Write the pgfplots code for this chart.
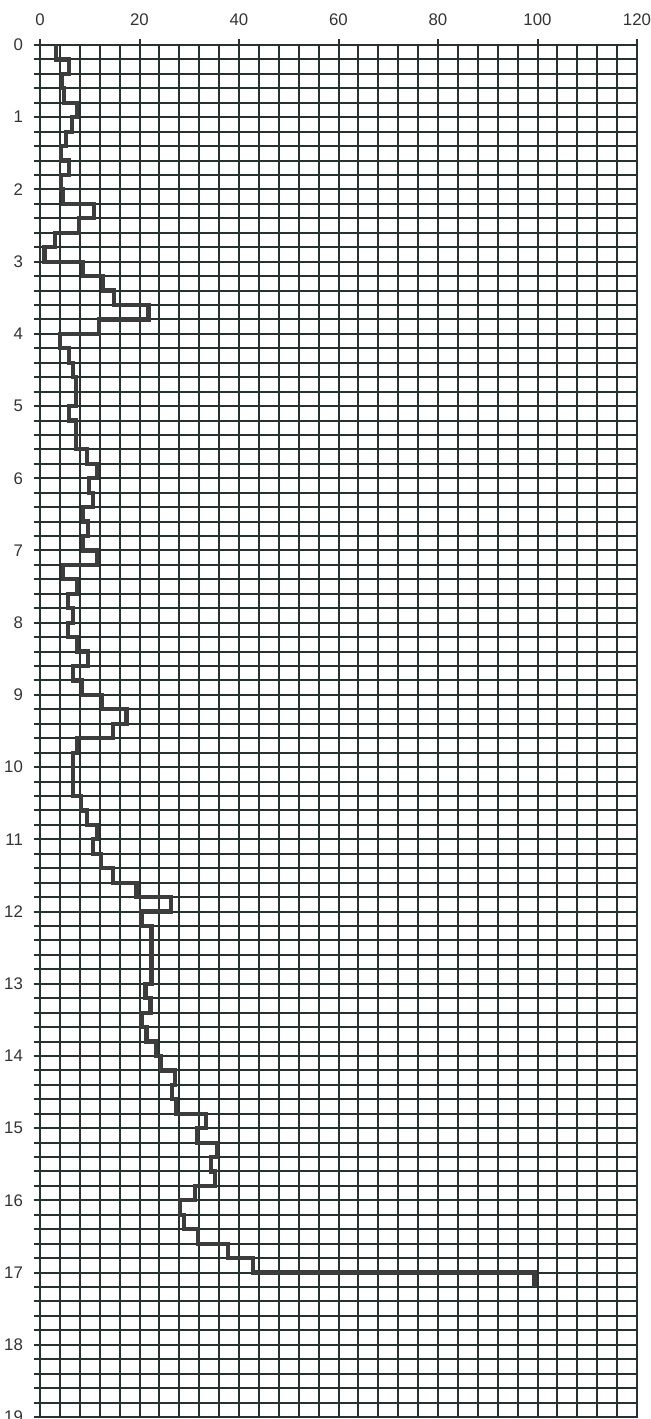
\documentclass[border=0pt]{standalone}
\usepackage{pgfplots}
\pgfplotsset{compat=1.18}
\usepackage{fontspec}
\setmainfont{Liberation Sans}
\definecolor{gridc}{HTML}{263230}
\definecolor{linec}{HTML}{3C3C3C}
\begin{document}
\begin{tikzpicture}
\begin{axis}[
  scale only axis,
  width=298.5pt, height=686pt,
  xmin=0, xmax=120, ymin=0, ymax=19,
  y dir=reverse,
  xtick={0,20,...,120},
  minor xtick={4,8,...,116},
  ytick={0,1,...,19},
  minor ytick={0.2,0.4,...,18.9},
  xtick pos=upper, xticklabel pos=upper,
  ytick pos=left,
  tick align=outside,
  major tick length=3pt,
  minor tick length=0pt,
  extra y ticks={0.2,0.4,...,18.9},
  extra y tick labels={},
  extra y tick style={major tick length=3pt, grid=none},
  grid=both,
  major grid style={draw=gridc, line width=1pt},
  minor grid style={draw=gridc, line width=1pt},
  axis line style={draw=gridc, line width=1pt},
  every tick/.style={draw=gridc, line width=1pt},
  tick label style={font=\fontsize{8.4}{10}\selectfont, text=black!80},
  xticklabel style={yshift=3pt},
  yticklabel style={xshift=-2pt},
  /pgf/number format/assume math mode=true,
  clip=false,
]
\addplot[draw=linec, line width=2.1pt, line join=miter] coordinates {
(3.2,0) (3.2,0.2) (5.9,0.2) (5.9,0.4) (4.4,0.4) (4.4,0.6) (4.9,0.6) (4.9,0.8)
(7.4,0.8) (7.4,1.0) (6.4,1.0) (6.4,1.2) (5.2,1.2) (5.2,1.4) (4.2,1.4) (4.2,1.6)
(5.9,1.6) (5.9,1.8) (4.2,1.8) (4.2,2.0) (4.7,2.0) (4.7,2.2) (10.9,2.2) (10.9,2.4)
(7.9,2.4) (7.9,2.6) (3.0,2.6) (3.0,2.8) (0.9,2.8) (0.9,3.0) (8.7,3.0) (8.7,3.2)
(12.7,3.2) (12.7,3.4) (14.9,3.4) (14.9,3.6) (21.8,3.6) (21.8,3.8) (11.9,3.8) (11.9,4.0)
(4.0,4.0) (4.0,4.2) (5.9,4.2) (5.9,4.4) (6.7,4.4) (6.7,4.6) (7.3,4.6) (7.3,5.0)
(5.9,5.0) (5.9,5.2) (7.3,5.2) (7.3,5.6) (9.5,5.6) (9.5,5.8) (11.5,5.8) (11.5,6.0)
(9.9,6.0) (9.9,6.2) (10.6,6.2) (10.6,6.4) (8.7,6.4) (8.7,6.6) (9.6,6.6) (9.6,6.8)
(8.6,6.8) (8.6,7.0) (11.5,7.0) (11.5,7.2) (4.7,7.2) (4.7,7.4) (7.5,7.4) (7.5,7.6)
(5.7,7.6) (5.7,7.8) (6.6,7.8) (6.6,8.0) (5.7,8.0) (5.7,8.2) (7.5,8.2) (7.5,8.4)
(9.6,8.4) (9.6,8.6) (6.7,8.6) (6.7,8.8) (8.4,8.8) (8.4,9.0) (12.4,9.0) (12.4,9.2)
(17.4,9.2) (17.4,9.4) (14.7,9.4) (14.7,9.6) (7.4,9.6) (7.4,9.8) (6.7,9.8) (6.7,10.4)
(8.2,10.4) (8.2,10.6) (9.5,10.6) (9.5,10.8) (11.4,10.8) (11.4,11.0) (10.6,11.0) (10.6,11.2)
(12.3,11.2) (12.3,11.4) (14.6,11.4) (14.6,11.6) (19.4,11.6) (19.4,11.8) (26.3,11.8) (26.3,12.0)
(20.4,12.0) (20.4,12.2) (22.4,12.2) (22.4,13.0) (21.2,13.0) (21.2,13.2) (22.2,13.2) (22.2,13.4)
(20.4,13.4) (20.4,13.6) (21.4,13.6) (21.4,13.8) (23.3,13.8) (23.3,14.0) (24.4,14.0) (24.4,14.2)
(27.1,14.2) (27.1,14.4) (26.5,14.4) (26.5,14.6) (27.3,14.6) (27.3,14.8) (33.3,14.8) (33.3,15.0)
(31.5,15.0) (31.5,15.2) (35.5,15.2) (35.5,15.4) (34.3,15.4) (34.3,15.6) (35.1,15.6) (35.1,15.8)
(31.2,15.8) (31.2,16.0) (28.1,16.0) (28.1,16.2) (28.9,16.2) (28.9,16.4) (31.8,16.4) (31.8,16.6)
(37.8,16.6) (37.8,16.8) (42.8,16.8) (42.8,17.0) (99.4,17.0) (99.4,17.2)
};
\end{axis}
\pgfresetboundingbox
\path[use as bounding box] ([xshift=-20pt,yshift=-1pt]current axis.south west) rectangle ([xshift=7pt,yshift=22.5pt]current axis.north east);
\end{tikzpicture}
\end{document}
